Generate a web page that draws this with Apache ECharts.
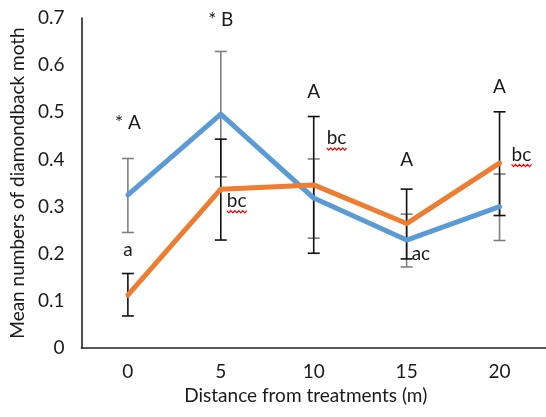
<!DOCTYPE html>
<html><head><meta charset="utf-8">
<script src="https://cdn.jsdelivr.net/npm/echarts@6/dist/echarts.min.js"></script>
<style>html,body{margin:0;padding:0;background:#fff}#c{width:546px;height:417px}</style>
</head><body><div id="c"></div>
<script>
// ---- data ----
const categories = ['0', '5', '10', '15', '20'];
const blueMean  = [0.325, 0.496, 0.318, 0.229, 0.300];
const blueLow   = [0.245, 0.363, 0.233, 0.172, 0.228];
const blueHigh  = [0.402, 0.629, 0.401, 0.284, 0.369];
const orangeMean = [0.112, 0.337, 0.346, 0.264, 0.392];
const orangeLow  = [0.068, 0.229, 0.201, 0.189, 0.281];
const orangeHigh = [0.158, 0.443, 0.491, 0.337, 0.501];
const upperLetters = ['* A', '* B', 'A', 'A', 'A'];
const upperLetterY = [0.477, 0.696, 0.543, 0.399, 0.554];
const lowerLetters = ['a', 'bc', 'bc', 'ac', 'bc'];
const lowerLetterY = [0.208, 0.312, 0.445, 0.200, 0.410];
const lowerSquiggle = [false, true, true, false, true];
const yMin = 0, yMax = 0.7, yStep = 0.1;

// ---- styling ----
const FONT = 'Lato';
const FS = 19;
const TXT = '#1a1a1a';
const lowerDx = [0, 6, 13, 5, 12]; // pixel offsets of lower letters (left edge from category)

function errorBar(color) {
  return function (params, api) {
    const x = api.value(0);
    const pLo = api.coord([x, api.value(1)]);
    const pHi = api.coord([x, api.value(2)]);
    const w = 6;
    const st = { stroke: color, lineWidth: 1.6 };
    return { type: 'group', children: [
      { type: 'line', shape: { x1: pLo[0], y1: pLo[1], x2: pHi[0], y2: pHi[1] }, style: st },
      { type: 'line', shape: { x1: pLo[0] - w, y1: pLo[1], x2: pLo[0] + w, y2: pLo[1] }, style: st },
      { type: 'line', shape: { x1: pHi[0] - w, y1: pHi[1], x2: pHi[0] + w, y2: pHi[1] }, style: st }
    ]};
  };
}

function letterItem(params, api) {
  const i = api.value(0);
  const p = api.coord([i, api.value(1)]);
  const kind = api.value(2);
  if (kind === 0) {
    return { type: 'text', x: p[0], y: p[1], style: { text: upperLetters[i], fill: TXT, fontFamily: FONT, fontSize: FS, align: 'center', verticalAlign: 'middle' } };
  }
  const txt = lowerLetters[i];
  const dx = lowerDx[i];
  const align = dx === 0 ? 'center' : 'left';
  const children = [{ type: 'text', x: p[0] + dx, y: p[1], style: { text: txt, fill: TXT, fontFamily: FONT, fontSize: FS, align: align, verticalAlign: 'middle' } }];
  if (lowerSquiggle[i]) {
    const pts = [];
    const x0 = p[0] + dx, yb = p[1] + 10.5;
    for (let k = 0; k <= 10; k++) pts.push([x0 + k * 2, yb + (k % 2 ? 1.4 : -0.8)]);
    children.push({ type: 'polyline', shape: { points: pts }, style: { stroke: '#ff0000', lineWidth: 1.3, fill: null } });
  }
  return { type: 'group', children: children };
}

const chart = echarts.init(document.getElementById('c'), null, { renderer: 'canvas' });
chart.setOption({
  animation: false,
  backgroundColor: '#fff',
  grid: { left: 79, right: -7, top: 18, bottom: 69, containLabel: false },
  xAxis: {
    type: 'category', data: categories, boundaryGap: true,
    axisLine: { lineStyle: { color: '#222', width: 1.6 } },
    axisTick: { show: false },
    axisLabel: { color: TXT, fontFamily: FONT, fontSize: FS, margin: 14 },
    name: 'Distance from treatments (m)', nameLocation: 'middle', nameGap: 34,
    nameTextStyle: { color: TXT, fontFamily: FONT, fontSize: FS, padding: [0, 16, 0, 0] }
  },
  yAxis: {
    type: 'value', min: yMin, max: yMax, interval: yStep,
    axisLine: { show: true, lineStyle: { color: '#222', width: 1.6 } },
    axisTick: { show: false }, splitLine: { show: false },
    axisLabel: { color: TXT, fontFamily: FONT, fontSize: FS, margin: 17, formatter: v => v === 0 ? '0' : v.toFixed(1) },
    name: 'Mean numbers of diamondback moth', nameLocation: 'middle', nameGap: 52, nameRotate: 90,
    nameTextStyle: { color: TXT, fontFamily: FONT, fontSize: FS }
  },
  series: [
    { type: 'custom', renderItem: errorBar('#7f7f7f'), z: 2, clip: false,
      data: categories.map((c, i) => [i, blueLow[i], blueHigh[i]]), encode: { x: 0, y: [1, 2] } },
    { type: 'custom', renderItem: errorBar('#111'), z: 3, clip: false,
      data: categories.map((c, i) => [i, orangeLow[i], orangeHigh[i]]), encode: { x: 0, y: [1, 2] } },
    { type: 'line', data: blueMean, symbol: 'none', z: 4, lineStyle: { color: '#5b9bd5', width: 5, cap: 'round', join: 'round' } },
    { type: 'line', data: orangeMean, symbol: 'none', z: 5, lineStyle: { color: '#ed7d31', width: 5, cap: 'round', join: 'round' } },
    { type: 'custom', renderItem: letterItem, z: 6, clip: false,
      data: categories.map((c, i) => [i, upperLetterY[i], 0]).concat(categories.map((c, i) => [i, lowerLetterY[i], 1])),
      encode: { x: 0, y: 1 } }
  ]
});
</script></body></html>
